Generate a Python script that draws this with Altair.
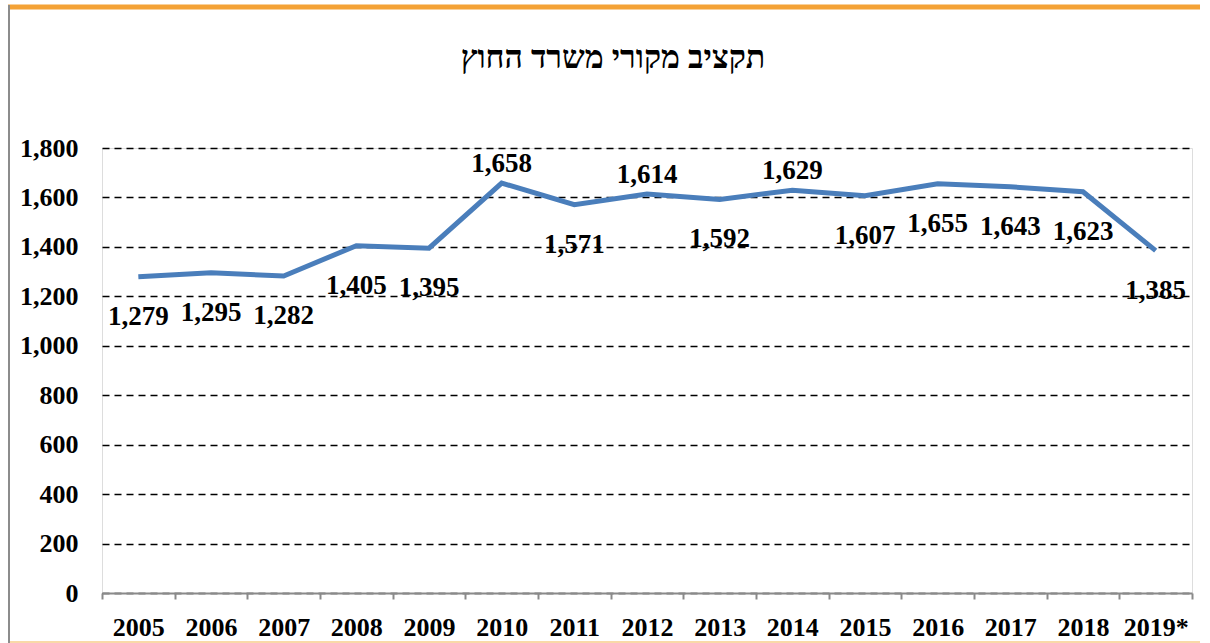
import altair as alt
import pandas as pd

years = ["2005", "2006", "2007", "2008", "2009", "2010", "2011", "2012",
         "2013", "2014", "2015", "2016", "2017", "2018", "2019*"]
budget = [1279, 1295, 1282, 1405, 1395, 1658, 1571, 1614,
          1592, 1629, 1607, 1655, 1643, 1623, 1385]
labels_above = ["2010", "2012", "2014"]
y_ticks = [0, 200, 400, 600, 800, 1000, 1200, 1400, 1600, 1800]
title_text = "תקציב מקורי משרד החוץ"

df = pd.DataFrame({"year": years, "value": budget})
df["above"] = df["year"].isin(labels_above)

FONT = "Liberation Serif"

x_enc = alt.X("year:N", sort=years, title=None,
              scale=alt.Scale(paddingInner=0, paddingOuter=0),
              axis=alt.Axis(labelAngle=0, labelFont=FONT, labelFontSize=26,
                            labelFontWeight="bold", labelColor="black",
                            domainColor="#8a8a8a", domainWidth=2,
                            tickColor="#8a8a8a", tickWidth=2, tickSize=6,
                            tickBand="extent", labelPadding=15, grid=False,
                            zindex=1))
y_enc = alt.Y("value:Q", title=None,
              scale=alt.Scale(domain=[0, 1800], nice=False),
              axis=alt.Axis(values=y_ticks, format=",d", labelFont=FONT,
                            labelFontSize=26, labelFontWeight="bold",
                            labelColor="black", labelPadding=24,
                            domain=False, ticks=False, grid=True,
                            gridColor="black", gridDash=[7, 5],
                            gridWidth=1.5, zindex=0))

base = alt.Chart(df)

line = base.mark_line(color="#4A7EBB", strokeWidth=5).encode(x=x_enc, y=y_enc)

text_above = base.transform_filter("datum.above").mark_text(
    font=FONT, fontSize=27, fontWeight="bold", color="black",
    baseline="middle", dy=-19
).encode(x=alt.X("year:N", sort=years), y="value:Q",
         text=alt.Text("value:Q", format=",d"))

text_below = base.transform_filter("!datum.above").mark_text(
    font=FONT, fontSize=27, fontWeight="bold", color="black",
    baseline="middle", dy=40
).encode(x=alt.X("year:N", sort=years), y="value:Q",
         text=alt.Text("value:Q", format=",d"))

one = pd.DataFrame({"t": [title_text]})

title = alt.Chart(one).mark_text(
    font=FONT, fontSize=32, fontWeight="bold", color="black",
    align="center", baseline="middle"
).encode(x=alt.value(511), y=alt.value(-90), text="t:N")

top_border = alt.Chart(one).mark_rule(
    color="#F4A236", strokeWidth=5
).encode(x=alt.value(-94), x2=alt.value(1098), y=alt.value(-141))

left_border = alt.Chart(one).mark_rule(
    color="#8c8c8c", strokeWidth=2
).encode(x=alt.value(-93), y=alt.value(-143), y2=alt.value(495))

bottom_border = alt.Chart(one).mark_rule(
    color="#F9D9A8", strokeWidth=2
).encode(x=alt.value(-92), x2=alt.value(1098), y=alt.value(494))

chart = alt.layer(
    top_border, left_border, bottom_border, title, line, text_above, text_below
).properties(
    width=1090, height=445,
    autosize=alt.AutoSizeParams(type="none"),
    padding={"left": 102, "top": 148, "right": 18, "bottom": 50},
).configure_view(strokeOpacity=0).configure(background="white")

chart.save("out.html", embed_options={"renderer": "svg", "actions": False})
